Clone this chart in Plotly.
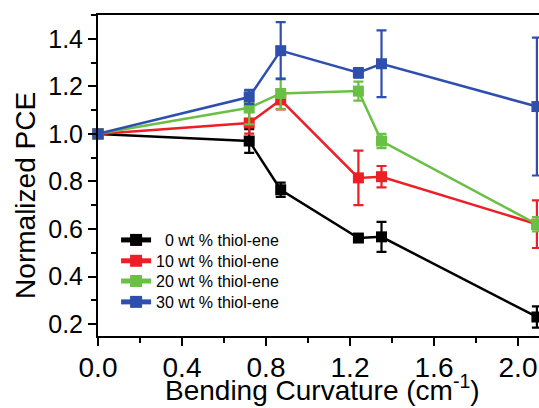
import plotly.graph_objects as go

# Data
curvature = [0.0, 0.72, 0.87, 1.24, 1.35, 2.09]
series_names = ["\u00a0\u00a00 wt % thiol-ene", "10 wt % thiol-ene", "20 wt % thiol-ene", "30 wt % thiol-ene"]
pce_0 = [1.0, 0.97, 0.765, 0.562, 0.567, 0.23]
err_0 = [0.0, 0.05, 0.03, 0.01, 0.063, 0.045]
pce_10 = [1.0, 1.046, 1.143, 0.815, 0.82, 0.62]
err_10 = [0.0, 0.045, 0.04, 0.115, 0.045, 0.1]
pce_20 = [1.0, 1.11, 1.17, 1.18, 0.97, 0.62]
err_20 = [0.0, 0.07, 0.065, 0.04, 0.03, 0.03]
pce_30 = [1.0, 1.155, 1.35, 1.257, 1.295, 1.115]
err_30 = [0.0, 0.03, 0.12, 0.02, 0.14, 0.29]
colors = ["#000000", "#ec1f26", "#6abf45", "#2f4fae"]

x_ticks = [0.0, 0.4, 0.8, 1.2, 1.6, 2.0]
y_ticks = [0.2, 0.4, 0.6, 0.8, 1.0, 1.2, 1.4]

font_family = "Liberation Sans, Arial, sans-serif"
legend_ids = ["legend", "legend2", "legend3", "legend4"]
legend_y = [0.299, 0.234, 0.171, 0.106]

fig = go.Figure()
for name, ys, es, c, lid in zip(series_names, [pce_0, pce_10, pce_20, pce_30],
                                [err_0, err_10, err_20, err_30], colors, legend_ids):
    fig.add_trace(go.Scatter(
        x=curvature, y=ys, name=name, mode="lines+markers",
        line=dict(color=c, width=2.5),
        marker=dict(symbol="square", size=11, color=c),
        error_y=dict(type="data", array=es, visible=True, color=c, thickness=2.2, width=5),
        cliponaxis=False, legend=lid,
    ))

legend_common = dict(x=0.041, xanchor="left", yanchor="middle", bgcolor="rgba(0,0,0,0)",
                     font=dict(size=16, family=font_family), itemsizing="constant")
fig.update_layout(
    width=539, height=408,
    margin=dict(l=98, r=0, t=15, b=72),
    paper_bgcolor="white", plot_bgcolor="white",
    font=dict(family=font_family, color="black"),
    showlegend=True,
    legend=dict(y=legend_y[0], **legend_common),
    legend2=dict(y=legend_y[1], **legend_common),
    legend3=dict(y=legend_y[2], **legend_common),
    legend4=dict(y=legend_y[3], **legend_common),
    xaxis=dict(range=[0, 2.1], tickvals=x_ticks, ticktext=[f"{v:.1f}" for v in x_ticks],
               showgrid=False, zeroline=False, showline=True, linecolor="black", linewidth=2,
               mirror=True, ticks="outside", ticklen=8, tickwidth=2, tickcolor="black",
               tickfont=dict(size=28), ticklabelstandoff=-3,
               minor=dict(dtick=0.2, ticks="outside", ticklen=5, tickwidth=2, tickcolor="black", showgrid=False)),
    yaxis=dict(range=[0.15, 1.5], tickvals=y_ticks, ticktext=[f"{v:.1f}" for v in y_ticks],
               showgrid=False, zeroline=False, showline=True, linecolor="black", linewidth=2,
               mirror=False, ticks="outside", ticklen=8, tickwidth=2, tickcolor="black",
               tickfont=dict(size=25),
               minor=dict(dtick=0.1, ticks="outside", ticklen=5, tickwidth=2, tickcolor="black", showgrid=False)),
    annotations=[
        dict(text="Normalized PCE", xref="paper", yref="paper", x=-0.166, y=0.439,
             xanchor="center", yanchor="middle", textangle=-90, showarrow=False,
             font=dict(size=28)),
        dict(text="Bending Curvature (cm<sup>-1</sup>)", xref="paper", yref="paper", x=0.508, y=-0.162,
             xanchor="center", yanchor="middle", showarrow=False, font=dict(size=28)),
    ],
)

fig.write_html("out.html", config={"displayModeBar": False},
               post_script="document.body.style.margin='0';")
